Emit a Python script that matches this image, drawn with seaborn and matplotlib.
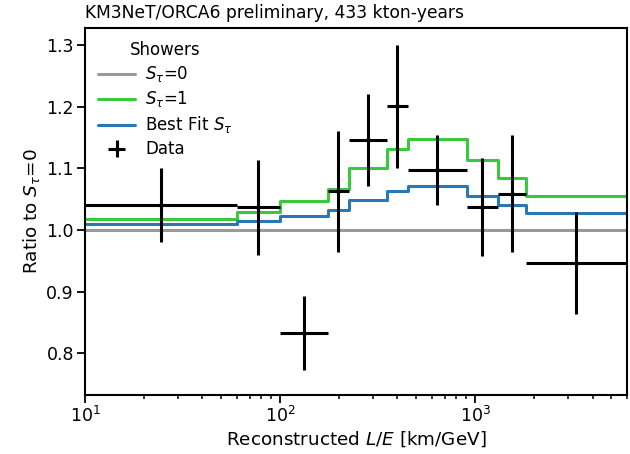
import numpy as np
import pandas as pd
import matplotlib
matplotlib.use("Agg")
import matplotlib.pyplot as plt
import seaborn as sns

# Reconstructed L/E binning [km/GeV]
bin_edges = [10, 60, 100, 176, 225, 352, 452, 904, 1310, 1815, 6000]

# Expected ratios to S_tau = 0 per bin
ratio_s0 = [1.0, 1.0, 1.0, 1.0, 1.0, 1.0, 1.0, 1.0, 1.0, 1.0]
ratio_s1 = [1.018, 1.029, 1.047, 1.066, 1.101, 1.132, 1.148, 1.114, 1.084, 1.056]
ratio_best = [1.009, 1.014, 1.022, 1.032, 1.049, 1.064, 1.072, 1.055, 1.041, 1.027]

# Observed data ratios and their uncertainties
data_ratio = [1.040, 1.037, 0.833, 1.063, 1.146, 1.201, 1.097, 1.037, 1.059, 0.946]
data_err = [0.060, 0.077, 0.060, 0.098, 0.075, 0.100, 0.057, 0.080, 0.095, 0.083]

sns.set_style("ticks")
plt.rcParams["font.family"] = ["DejaVu Sans"]
plt.rcParams["mathtext.fontset"] = "dejavusans"
plt.rcParams["text.color"] = "black"
plt.rcParams["axes.labelcolor"] = "black"
plt.rcParams["xtick.color"] = "black"
plt.rcParams["ytick.color"] = "black"

fig = plt.figure(figsize=(6.3, 4.54), dpi=100)
ax = fig.add_axes([0.135, 0.130, 0.860, 0.808])

edges = np.array(bin_edges, dtype=float)


def step_frame(values):
    vals = list(values) + [values[-1]]
    return pd.DataFrame({"LE": edges, "ratio": vals})


lw = 2.2
sns.lineplot(data=step_frame(ratio_s0), x="LE", y="ratio", drawstyle="steps-post",
             color="#999999", lw=lw, ax=ax, label=r"$S_\tau$=0")
sns.lineplot(data=step_frame(ratio_s1), x="LE", y="ratio", drawstyle="steps-post",
             color="#3cc83c", lw=lw, ax=ax, label=r"$S_\tau$=1")
sns.lineplot(data=step_frame(ratio_best), x="LE", y="ratio", drawstyle="steps-post",
             color="#2878b5", lw=lw, ax=ax, label=r"Best Fit $S_\tau$")

# Data points at the geometric bin centres, x-errors spanning the bin
centres = np.sqrt(edges[:-1] * edges[1:])
xerr = np.vstack([centres - edges[:-1], edges[1:] - centres])
ax.errorbar(centres, data_ratio, xerr=xerr, yerr=data_err, fmt="o", ms=2.5,
            color="black", ecolor="black", elinewidth=2.2, capsize=0,
            label="Data", zorder=5)

ax.set_xscale("log")
ax.set_xlim(10, 6000)
ax.set_ylim(0.732, 1.328)
ax.set_yticks([0.8, 0.9, 1.0, 1.1, 1.2, 1.3])

ax.set_xlabel(r"Reconstructed $L/E$ [km/GeV]", fontsize=13.2, labelpad=2)
ax.set_ylabel(r"Ratio to $S_\tau$=0", fontsize=13.2, labelpad=3)
ax.set_title("KM3NeT/ORCA6 preliminary, 433 kton-years", loc="left",
             fontsize=12.35, pad=7)

for s in ax.spines.values():
    s.set_linewidth(1.5)
    s.set_color("black")
ax.tick_params(axis="both", which="major", length=5.5, width=1.3,
               labelsize=12.5, color="black", labelcolor="black", pad=2.5)
ax.tick_params(axis="x", which="minor", length=3, width=1.1, color="black")

handles, labels = ax.get_legend_handles_labels()
leg = ax.legend(handles, labels, title="Showers", loc="upper left",
                frameon=False, fontsize=12, title_fontsize=12,
                handlelength=2.2, handletextpad=0.6, borderaxespad=0.4,
                labelspacing=0.3)

fig.savefig("out.png", dpi=100)
